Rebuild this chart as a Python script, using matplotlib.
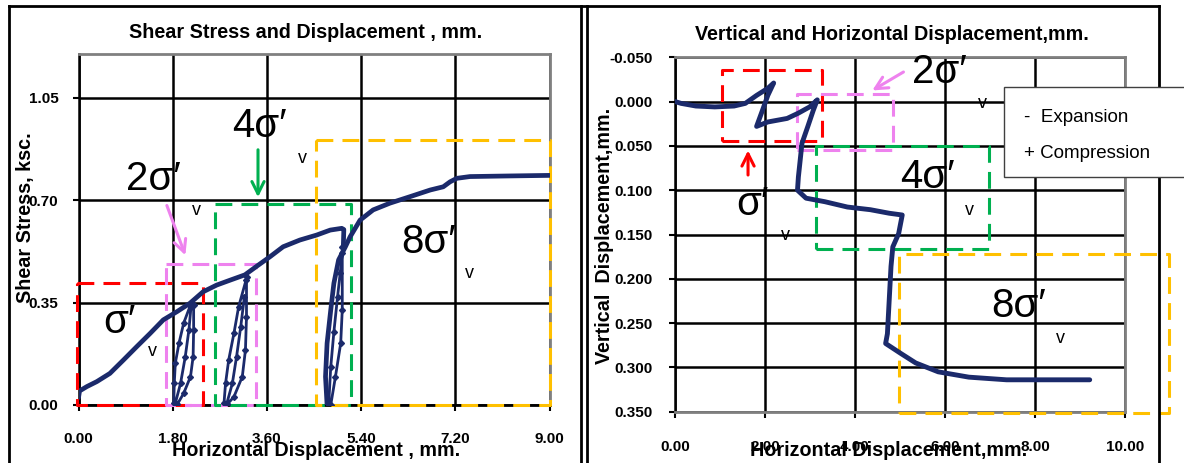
import matplotlib
matplotlib.use("Agg")
import matplotlib.pyplot as plt
from matplotlib.lines import Line2D
from matplotlib.patches import Rectangle

plt.rcParams['font.family'] = ['Liberation Sans', 'DejaVu Sans']

# ---------------- data: left chart (shear stress vs horizontal displacement)
main_x = [0.0, 0.02, 0.16, 0.35, 0.60, 0.86, 1.11, 1.37, 1.62, 1.88, 2.13, 2.38,
          2.64, 2.90, 3.18, 3.41, 3.66, 3.91, 4.23, 4.55, 4.81, 5.03, 5.07, 5.06]
main_y = [0.025, 0.048, 0.063, 0.080, 0.108, 0.154, 0.199, 0.245, 0.291, 0.319,
          0.348, 0.387, 0.410, 0.427, 0.445, 0.475, 0.507, 0.541, 0.564, 0.581,
          0.598, 0.604, 0.600, 0.541]

stage4_x = [4.75, 4.72, 4.75, 4.82, 4.88, 4.97, 5.10, 5.19, 5.38, 5.63, 5.95,
            6.33, 6.72, 6.97, 7.10, 7.23, 7.48, 8.20, 9.0]
stage4_y = [0.0, 0.097, 0.211, 0.325, 0.416, 0.496, 0.541, 0.575, 0.632, 0.667,
            0.690, 0.712, 0.735, 0.746, 0.763, 0.775, 0.781, 0.783, 0.785]

loop1_x = [1.82, 1.83, 1.85, 1.92, 2.01, 2.14, 2.20, 2.20, 2.19, 2.14, 2.01, 1.89,
           1.85, 1.95, 2.04, 2.11, 2.15]
loop1_y = [0.006, 0.074, 0.143, 0.211, 0.280, 0.342, 0.342, 0.257, 0.165, 0.097,
           0.040, 0.003, 0.006, 0.074, 0.165, 0.257, 0.336]

loop2_x = [2.78, 2.81, 2.87, 2.97, 3.06, 3.22, 3.21, 3.21, 3.19, 3.13, 2.97, 2.84,
           2.83, 2.94, 3.02, 3.10, 3.17]
loop2_y = [0.006, 0.074, 0.154, 0.245, 0.336, 0.439, 0.428, 0.302, 0.188, 0.097,
           0.028, 0.002, 0.003, 0.074, 0.165, 0.268, 0.370]

loop3_x = [5.04, 5.04, 5.01, 4.91, 4.82, 4.78, 4.82, 4.88, 4.95, 5.00, 5.04]
loop3_y = [0.541, 0.325, 0.211, 0.097, 0.0, 0.0, 0.130, 0.250, 0.370, 0.450, 0.520]

left_xticks = [0.0, 1.8, 3.6, 5.4, 7.2, 9.0]
left_yticks = [0.0, 0.35, 0.70, 1.05]

# dashed stage boxes: (x0, x1, y0, y1)
left_boxes = [(-0.02, 2.37, 0.0, 0.416), (1.67, 3.40, 0.0, 0.482),
              (2.60, 5.20, 0.0, 0.687), (4.54, 9.0, 0.0, 0.906)]

# ---------------- data: right chart (vertical vs horizontal displacement)
vert_x = [0.0, 0.13, 0.46, 0.88, 1.31, 1.56, 1.81, 2.06, 2.19, 2.06, 1.94, 1.81,
          2.06, 2.49, 2.74, 2.99, 3.16, 3.07, 2.95, 2.82, 2.78, 2.74, 2.72, 2.91,
          3.33, 3.83, 4.34, 4.76, 5.05, 4.97, 4.84, 4.80, 4.76, 4.72, 4.68, 5.01,
          5.35, 5.85, 6.53, 7.37, 8.21, 9.22]
vert_y = [0.0, 0.002, 0.005, 0.006, 0.005, 0.002, -0.007, -0.015, -0.021, -0.007,
          0.010, 0.028, 0.023, 0.019, 0.013, 0.006, -0.002, 0.010, 0.028, 0.047,
          0.066, 0.085, 0.100, 0.109, 0.113, 0.119, 0.122, 0.126, 0.128, 0.149,
          0.164, 0.186, 0.224, 0.262, 0.273, 0.284, 0.295, 0.305, 0.311, 0.314,
          0.314, 0.314]

right_xticks = [0.0, 2.0, 4.0, 6.0, 8.0, 10.0]
right_yticks = [-0.05, 0.0, 0.05, 0.10, 0.15, 0.20, 0.25, 0.30, 0.35]

right_boxes = [(1.05, 3.26, -0.036, 0.044), (2.70, 4.84, -0.009, 0.055),
               (3.14, 6.99, 0.050, 0.166), (4.97, 10.99, 0.172, 0.351)]

box_colors = ['#FF0000', '#EE82EE', '#00B050', '#FFC000']
stage_labels = ['σ′', '2σ′', '4σ′', '8σ′']

NAVY = '#1B2A6B'
GRAY = '#808080'
W, H = 1184, 463

fig = plt.figure(figsize=(W / 100, H / 100), dpi=100)


def fx(px):
    return px / W


def fy(py):
    return 1 - py / H


def style_axes(ax, xticks, yticks, xlim, ylim, xfmt, yfmt, xpad, ypad):
    ax.set_xlim(*xlim)
    ax.set_ylim(*ylim)
    ax.set_xticks(xticks)
    ax.set_yticks(yticks)
    ax.set_xticklabels([xfmt % v for v in xticks], fontweight='bold', fontsize=11)
    ax.set_yticklabels([yfmt % v for v in yticks], fontweight='bold', fontsize=11)
    ax.tick_params(axis='both', direction='out', length=4.5, width=1.5, color='black')
    ax.tick_params(axis='x', pad=xpad)
    ax.tick_params(axis='y', pad=ypad)
    ax.grid(True, color='black', linewidth=1.8)
    ax.set_axisbelow(True)
    for s in ['top', 'right', 'bottom']:
        ax.spines[s].set_color(GRAY)
        ax.spines[s].set_linewidth(2.0)
    ax.spines['left'].set_color('black')
    ax.spines['left'].set_linewidth(1.8)


def draw_box(ax, b, c):
    x0, x1, y0, y1 = b
    ax.plot([x0, x1, x1, x0, x0], [y1, y1, y0, y0, y1], color=c, lw=2.2,
            dashes=(5.5, 3), clip_on=False, zorder=4)


# ---------------- left chart
ax1 = fig.add_axes([fx(78.5), fy(405), fx(549.5) - fx(78.5), fy(54) - fy(405)])
style_axes(ax1, left_xticks, left_yticks, (0, 9.0), (0, 1.2), '%.2f', '%.2f', 15, 10)
ax1.spines['bottom'].set_color('black')
for b, c in zip(left_boxes, box_colors):
    draw_box(ax1, b, c)
ax1.plot(main_x, main_y, color=NAVY, lw=3.4, zorder=5, solid_capstyle='round',
         solid_joinstyle='round')
ax1.plot(stage4_x, stage4_y, color=NAVY, lw=3.4, zorder=5, solid_capstyle='round',
         solid_joinstyle='round')
for lx, ly in [(loop1_x, loop1_y), (loop2_x, loop2_y), (loop3_x, loop3_y)]:
    ax1.plot(lx, ly, color=NAVY, lw=2.0, marker='D', ms=3, zorder=5)

big = dict(fontsize=29, ha='left', va='baseline', zorder=6)
small = dict(fontsize=13, ha='left', va='baseline', zorder=6)
left_lab_pos = [(0.47, 0.246), (0.91, 0.735), (2.93, 0.916), (6.16, 0.52)]
left_v_pos = [(1.33, 0.168), (2.17, 0.65), (4.19, 0.827), (7.39, 0.434)]
for t, p, v in zip(stage_labels, left_lab_pos, left_v_pos):
    ax1.text(p[0], p[1], t, **big)
    ax1.text(v[0], v[1], 'v', **small)

ax1.annotate('', xy=(2.06, 0.503), xytext=(1.67, 0.691),
             arrowprops=dict(arrowstyle='->', color='#EE82EE', lw=2.2, mutation_scale=22))
ax1.annotate('', xy=(3.43, 0.701), xytext=(3.43, 0.882),
             arrowprops=dict(arrowstyle='->', color='#00B050', lw=2.2, mutation_scale=22))

fig.text(fx(306), fy(33), 'Shear Stress and Displacement , mm.', ha='center', va='center',
         fontsize=14.2, fontweight='bold')
fig.text(fx(316), fy(451), 'Horizontal Displacement , mm.', ha='center', va='center',
         fontsize=14.2, fontweight='bold')
fig.text(fx(26), fy(218), 'Shear Stress, ksc.', ha='center', va='center', rotation=90,
         fontsize=14.2, fontweight='bold')

# ---------------- right chart
ax2 = fig.add_axes([fx(675.2), fy(411.7), fx(1124.8) - fx(675.2), fy(57.3) - fy(411.7)])
style_axes(ax2, right_xticks, right_yticks, (0, 10.0), (0.35, -0.05), '%.2f', '%.3f', 16, 12)
for b, c in zip(right_boxes, box_colors):
    draw_box(ax2, b, c)
ax2.plot(vert_x, vert_y, color=NAVY, lw=3.5, zorder=5, solid_capstyle='round',
         solid_joinstyle='round')

right_lab_pos = [(1.35, 0.128), (5.27, -0.021), (5.0, 0.0975), (7.02, 0.243)]
right_v_pos = [(2.35, 0.156), (6.73, 0.0072), (6.45, 0.128), (8.47, 0.273)]
for t, p, v in zip(stage_labels, right_lab_pos, right_v_pos):
    ax2.text(p[0], p[1], t, **big)
    ax2.text(v[0], v[1], 'v', **small)

ax2.annotate('', xy=(1.62, 0.052), xytext=(1.62, 0.086),
             arrowprops=dict(arrowstyle='->', color='#FF0000', lw=2.2, mutation_scale=22))
ax2.annotate('', xy=(4.33, -0.011), xytext=(5.13, -0.035),
             arrowprops=dict(arrowstyle='->', color='#EE82EE', lw=2.2, mutation_scale=22))

fig.text(fx(892), fy(35), 'Vertical and Horizontal Displacement,mm.', ha='center', va='center',
         fontsize=14.2, fontweight='bold')
fig.text(fx(889), fy(450), 'Horizontal Displacement,mm.', ha='center', va='center',
         fontsize=14.2, fontweight='bold')
fig.text(fx(605), fy(236), 'Vertical  Displacement,mm.', ha='center', va='center', rotation=90,
         fontsize=14.2, fontweight='bold')

# legend-like note box
fig.add_artist(Rectangle((fx(1003.5), fy(177)), fx(1190) - fx(1003.5), fy(87.5) - fy(177),
                         transform=fig.transFigure, facecolor='white', edgecolor='#404040',
                         lw=1.0, zorder=10))
fig.text(fx(1024), fy(117), '-  Expansion', ha='left', va='center', fontsize=13.5, zorder=11)
fig.text(fx(1024), fy(153), '+ Compression', ha='left', va='center', fontsize=13.5, zorder=11)

# outer frames
frame_lines = [((9, 1159), (6, 6)), ((9, 9), (6, 463)), ((580.5, 580.5), (6, 463)),
               ((586.5, 586.5), (6, 463)), ((1159, 1159), (6, 463))]
for xs, ys in frame_lines:
    fig.add_artist(Line2D([fx(xs[0]), fx(xs[1])], [fy(ys[0]), fy(ys[1])],
                          transform=fig.transFigure, color='black', lw=2.0, zorder=1))

fig.savefig('out.png', dpi=100)
